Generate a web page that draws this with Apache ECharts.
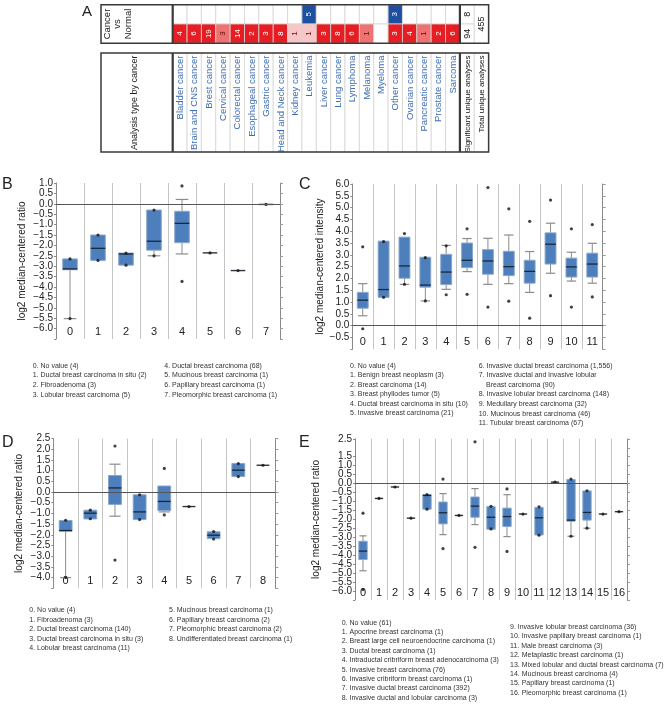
<!DOCTYPE html>
<html><head><meta charset="utf-8">
<script src="https://cdn.jsdelivr.net/npm/echarts@6/dist/echarts.min.js"></script>
<style>html,body{margin:0;padding:0;background:#fff}#c{width:669px;height:706px}</style>
</head><body><div id="c"></div>
<script>
// ---------------- Panel A data ----------------
const cancerTypes = ['Bladder cancer','Brain and CNS cancer','Brest cancer','Cervical cancer','Colorectal cancer','Esophageal cancer','Gastric cancer','Head and Neck cancer','Kidney cancer','Leukemia','Liver cancer','Lung cancer','Lymphoma','Melanoma','Myeloma','Other cancer','Ovarian cancer','Pancreatic cancer','Prostate cancer','Sarcoma'];
const summaryColumns = ['Significant unique analyses','Total unique analyses'];
const blueCounts = [null,null,null,null,null,null,null,null,null,5,null,null,null,null,null,3,null,null,null,null];
const blueRank   = [0,0,0,0,0,0,0,0,0,3,0,0,0,0,0,3,0,0,0,0];
const redCounts  = [4,6,19,3,14,2,3,8,1,1,3,8,6,1,null,3,4,1,2,6];
const redRank    = [3,3,3,2,3,3,3,3,1,1,3,3,3,2,0,3,3,2,3,3];
const significantBlue = 8, significantRed = 94, totalAnalyses = 455;

// ---------------- Panel B data ----------------
const catsB = ['0','1','2','3','4','5','6','7'];
const boxesB = [
  [-5.52,-3.17,-3.13,-2.65,-2.65],
  [-2.72,-2.72,-2.14,-1.50,-1.50],
  [-2.95,-2.95,-2.41,-2.37,-2.37],
  [-2.50,-2.23,-1.80,-0.30,-0.30],
  [-2.41,-1.87,-0.94,-0.36,0.21],
  [-2.36,-2.36,-2.36,-2.36,-2.36],
  [-3.21,-3.21,-3.21,-3.21,-3.21],
  [-0.03,-0.03,-0.03,-0.03,-0.03]
];
const dotsB = [[0,-2.65],[0,-5.52],[1,-1.5],[1,-2.72],[2,-2.37],[2,-2.95],[3,-0.30],[3,-2.50],[4,0.86],[4,-3.73],[5,-2.36],[6,-3.21],[7,-0.03]];
const legendB = [
  ['0. No value (4)','1. Ductal breast carcinoma in situ (2)','2. Fibroadenoma (3)','3. Lobular breast carcinoma (5)'],
  ['4. Ductal breast carcinoma (68)','5. Mucinous breast carcinoma (1)','6. Papillary breast carcinoma (1)','7. Pleomorphic breast carcinoma (1)']
];

// ---------------- Panel C data ----------------
const catsC = ['0','1','2','3','4','5','6','7','8','9','10','11'];
const boxesC = [
  [0.42,0.74,1.08,1.41,1.78],
  [1.20,1.20,1.53,3.58,3.58],
  [1.75,2.01,2.53,3.75,3.75],
  [1.05,1.63,1.72,2.90,2.90],
  [1.54,1.74,2.27,3.02,3.40],
  [2.29,2.46,2.77,3.50,3.69],
  [1.75,2.18,2.74,3.22,3.70],
  [1.78,2.12,2.50,3.15,3.84],
  [1.41,1.80,2.30,2.77,3.14],
  [2.22,2.61,3.45,3.93,4.34],
  [1.89,2.06,2.49,2.86,3.11],
  [1.80,2.06,2.61,3.07,3.49]
];
const dotsC = [[0,3.34],[0,-0.13],[1,3.56],[1,1.20],[2,3.90],[2,1.75],[3,2.88],[3,1.05],[4,3.38],[4,1.31],[5,4.10],[5,1.33],[6,5.85],[6,0.79],[7,4.95],[7,1.04],[8,4.42],[8,0.32],[9,5.32],[9,1.27],[10,4.10],[10,0.79],[11,4.28],[11,1.22]];
const legendC = [
  ['0. No value (4)','1. Benign breast neoplasm (3)','2. Breast carcinoma (14)','3. Breast phyllodes tumor (5)','4. Ductal breast carcinoma in situ (10)','5. Invasive breast carcinoma (21)'],
  ['6. Invasive ductal breast carcinoma (1,556)','7. Invasive ductal and invasive lobular','    Breast carcinoma (90)','8. Invasive lobular breast carcinoma (148)','9. Medullary breast carcinoma (32)','10. Mucinous breast carcinoma (46)','11. Tubular breast carcinoma (67)']
];

// ---------------- Panel D data ----------------
const catsD = ['0','1','2','3','4','5','6','7','8'];
const boxesD = [
  [-4.00,-1.83,-1.80,-1.33,-1.33],
  [-1.26,-1.26,-0.99,-0.85,-0.85],
  [-1.13,-0.58,0.19,0.77,1.30],
  [-1.29,-1.29,-0.93,-0.13,-0.13],
  [-0.93,-0.87,-0.44,0.28,0.28],
  [-0.68,-0.68,-0.68,-0.68,-0.68],
  [-2.18,-2.18,-2.02,-1.86,-1.86],
  [0.72,0.72,1.02,1.33,1.33],
  [1.25,1.25,1.25,1.25,1.25]
];
const dotsD = [[0,-1.32],[0,-4.0],[1,-0.85],[1,-1.25],[2,2.15],[2,-3.18],[3,-0.13],[3,-1.29],[4,1.10],[4,-1.07],[5,-0.68],[6,-1.85],[6,-2.20],[7,1.33],[7,0.72],[8,1.25]];
const legendD = [
  ['0. No value (4)','1. Fibroadenoma (3)','2. Ductal breast carcinoma (140)','3. Ductal breast carcinoma in situ (3)','4. Lobular breast carcinoma (11)'],
  ['5. Mucinous breast carcinoma (1)','6. Papillary breast carcinoma (2)','7. Pleomorphic breast carcinoma (2)','8. Undifferentiated breast carcinoma (1)']
];

// ---------------- Panel E data ----------------
const catsE = ['0','1','2','3','4','5','6','7','8','9','10','11','12','13','14','15','16'];
const boxesE = [
  [-4.87,-4.24,-3.77,-3.22,-2.92],
  [-0.83,-0.83,-0.83,-0.83,-0.83],
  [-0.19,-0.19,-0.19,-0.19,-0.19],
  [-1.93,-1.93,-1.93,-1.93,-1.93],
  [-1.43,-1.43,-0.66,-0.62,-0.62],
  [-2.85,-2.25,-1.63,-1.03,-0.56],
  [-1.78,-1.78,-1.78,-1.78,-1.78],
  [-2.29,-1.88,-1.26,-0.75,-0.28],
  [-2.55,-2.55,-1.88,-1.29,-1.29],
  [-2.96,-2.40,-1.84,-1.37,-0.62],
  [-1.70,-1.70,-1.70,-1.70,-1.70],
  [-2.87,-2.87,-1.91,-1.33,-1.33],
  [0.08,0.08,0.08,0.08,0.08],
  [-2.94,-2.10,-2.04,0.23,0.23],
  [-2.49,-2.04,-1.61,-0.41,-0.41],
  [-1.70,-1.70,-1.70,-1.70,-1.70],
  [-1.57,-1.57,-1.57,-1.57,-1.57]
];
const dotsE = [[0,-1.65],[0,-5.92],[1,-0.83],[2,-0.19],[3,-1.93],[4,-0.62],[4,-1.43],[5,0.25],[5,-3.63],[6,-1.78],[7,2.33],[7,-3.56],[8,-1.27],[8,-2.53],[9,-0.30],[9,-3.79],[10,-1.70],[11,-1.30],[11,-2.88],[12,0.08],[13,0.25],[13,-2.94],[14,-0.40],[14,-2.49],[15,-1.70],[16,-1.57]];
const legendE = [
  ['0. No value (61)','1. Apocrine breast carcinoma (1)','2. Breast large cell neuroendocrine carcinoma (1)','3. Ductal breast carcinoma (1)','4. Intraductal cribriform breast adenocarcinoma (3)','5. Invasive breast carcinoma (76)','6. Invasive cribriform breast carcinoma (1)','7. Invasive ductal breast carcinoma (392)','8. Invasive ductal and lobular carcinoma (3)'],
  ['9. Invasive lobular breast carcinoma (36)','10. Invasive papillary breast carcinoma (1)','11. Male breast carcinoma (3)','12. Metaplastic breast carcinoma (1)','13. Mixed lobular and ductal breast carcinoma (7)','14. Mucinous breast carcinoma (4)','15. Papillary breast carcinoma (1)','16. Pleomorphic breast carcinoma (1)']
];

// ---------------- Rendering ----------------
const FONT = "'Liberation Sans', Arial, sans-serif";
const chart = echarts.init(document.getElementById('c'), null, {renderer:'canvas'});

// Panel A geometry
const tblLeft = 101, hdrRight = 172.7, cellW = 14.36;
const nCols = cancerTypes.length + summaryColumns.length;
const tblRight = hdrRight + nCols * cellW;
const sepX = hdrRight + cancerTypes.length * cellW;
const t1Top = 4.7, t1H = 38.6, t2Top = 53, t2H = 99;

const cellsA = [];
cancerTypes.forEach((n, i) => {
  cellsA.push({col:i,row:0,count:blueCounts[i],rank:blueRank[i],hue:'blue'});
  cellsA.push({col:i,row:1,count:redCounts[i],rank:redRank[i],hue:'red'});
});
cellsA.push({col:20,row:0,count:significantBlue,hue:'none'});
cellsA.push({col:20,row:1,count:significantRed,hue:'none'});
cellsA.push({col:21,row:0,count:totalAnalyses,hue:'none',span:2});

const redShade = {3:'#e61e24',2:'#ef7272',1:'#f8c6c6'};
const blueShade = {3:'#1f4f9f',2:'#6f8fca',1:'#c6d3ec'};

function renderCellA(params, api) {
  const c = cellsA[params.dataIndex];
  const p = api.coord([c.col, c.row]);
  const s = api.size([1, 1]);
  let w = s[0], h = s[1], cx = p[0], cy = p[1];
  if (c.span === 2) { cy = cy + h / 2; h = h * 2; }
  let fill = '#fff', tcol = '#111';
  if (c.count != null && c.hue === 'red') { fill = redShade[c.rank]; tcol = c.rank === 3 ? '#fff' : '#5a1010'; }
  if (c.count != null && c.hue === 'blue') { fill = blueShade[c.rank]; tcol = c.rank === 3 ? '#fff' : '#102050'; }
  const ch = [{type:'rect', shape:{x:cx-w/2, y:cy-h/2, width:w, height:h}, style:{fill:fill, stroke:'#d4d4d4', lineWidth:0.8}}];
  if (c.count != null) {
    ch.push({type:'text', x:cx, y:cy, rotation:Math.PI/2,
      style:{text:String(c.count), fill:tcol, font:(c.hue==='none'?'9px ':'8px ') + FONT, align:'center', verticalAlign:'middle'}});
  }
  return {type:'group', children:ch};
}
const namesA = cancerTypes.concat(summaryColumns);
function renderNameA(params, api) {
  const i = params.dataIndex;
  const p = api.coord([i, 0]);
  const s = api.size([1, 1]);
  const isSum = i >= cancerTypes.length;
  return {type:'group', children:[
    {type:'rect', shape:{x:p[0]-s[0]/2, y:p[1]-s[1]/2, width:s[0], height:s[1]}, style:{fill:'#fff', stroke:'#d4d4d4', lineWidth:0.8}},
    {type:'text', x:p[0]+0.5, y:p[1]-s[1]/2+2.5, rotation:Math.PI/2,
      style:{text:namesA[i], fill:isSum?'#111':'#3f6db3', font:(isSum?'8px ':'9.5px ') + FONT, align:'right', verticalAlign:'middle'}}
  ]};
}

// Box plot renderer
function makeBoxRenderer(boxes) {
  return function (params, api) {
    const cat = api.value(0);
    const v = boxes[cat];
    const band = api.size([1, 0])[0];
    const x = api.coord([cat, v[2]])[0];
    const y = v.map(val => api.coord([cat, val])[1]);
    const bw = band * 0.52, cw = band * 0.45;
    const ch = [];
    const wcol = '#8c8c8c';
    if (v[0] === v[4]) {
      ch.push({type:'line', shape:{x1:x-bw/2, y1:y[2], x2:x+bw/2, y2:y[2]}, style:{stroke:'#2a3440', lineWidth:1.4}});
      return {type:'group', children:ch};
    }
    if (v[0] < v[1]) {
      ch.push({type:'line', shape:{x1:x, y1:y[1], x2:x, y2:y[0]}, style:{stroke:wcol, lineWidth:1}});
      ch.push({type:'line', shape:{x1:x-cw/2, y1:y[0], x2:x+cw/2, y2:y[0]}, style:{stroke:wcol, lineWidth:1.2}});
    }
    if (v[4] > v[3]) {
      ch.push({type:'line', shape:{x1:x, y1:y[3], x2:x, y2:y[4]}, style:{stroke:wcol, lineWidth:1}});
      ch.push({type:'line', shape:{x1:x-cw/2, y1:y[4], x2:x+cw/2, y2:y[4]}, style:{stroke:wcol, lineWidth:1.2}});
    }
    ch.push({type:'rect', shape:{x:x-bw/2, y:y[3], width:bw, height:Math.max(1, y[1]-y[3])}, style:{fill:'#4d7fbc', stroke:'#8aa6c8', lineWidth:1}});
    ch.push({type:'line', shape:{x1:x-bw/2, y1:y[2], x2:x+bw/2, y2:y[2]}, style:{stroke:'#17283c', lineWidth:1.3}});
    return {type:'group', children:ch};
  };
}

const fmt = (min) => (v) => Math.abs(v - min) < 1e-9 ? '' : (v < -1e-9 ? '\u2212' + Math.abs(v).toFixed(1) : Math.abs(v).toFixed(1));

const panels = [
  {cats:catsB, boxes:boxesB, dots:dotsB, min:-6.5, max:1.0, grid:{left:56, top:183, width:224, height:156}, name:'log2 median-centered ratio', gap:29},
  {cats:catsC, boxes:boxesC, dots:dotsC, min:-1.0, max:6.0, grid:{left:352.3, top:184, width:250.4, height:165.3}, name:'log2 median-centered intensity', gap:27},
  {cats:catsD, boxes:boxesD, dots:dotsD, min:-4.5, max:2.5, grid:{left:53.3, top:438.5, width:222, height:149.8}, name:'log2 median-centered ratio', gap:29},
  {cats:catsE, boxes:boxesE, dots:dotsE, min:-6.5, max:2.5, grid:{left:355, top:438.8, width:272, height:161.2}, name:'log2 median-centered ratio', gap:34}
];

const grids = [
  {left:hdrRight, top:t1Top, width:nCols*cellW, height:t1H},
  {left:hdrRight, top:t2Top, width:nCols*cellW, height:t2H}
];
const xAxes = [
  {gridIndex:0, type:'category', data:namesA, show:false},
  {gridIndex:1, type:'category', data:namesA, show:false}
];
const yAxes = [
  {gridIndex:0, type:'category', data:['blue','red'], inverse:true, show:false},
  {gridIndex:1, type:'category', data:['names'], show:false}
];
const series = [
  {type:'custom', xAxisIndex:0, yAxisIndex:0, renderItem:renderCellA, data:cellsA.map(c=>[c.col,c.row]), encode:{x:0,y:1}, silent:true, clip:false},
  {type:'custom', xAxisIndex:1, yAxisIndex:1, renderItem:renderNameA, data:namesA.map((n,i)=>[i,0]), encode:{x:0,y:1}, silent:true, clip:false}
];

panels.forEach((p, k) => {
  const gi = grids.length;
  grids.push(p.grid);
  const xi = xAxes.length, yi = yAxes.length;
  xAxes.push({gridIndex:gi, type:'category', data:p.cats, position:'bottom',
    axisLine:{lineStyle:{color:'#8a8a8a', width:1}}, axisTick:{show:false},
    axisLabel:{inside:true, margin:1.5, interval:0, fontSize:11, color:'#222', fontFamily:FONT},
    splitLine:{show:true, lineStyle:{color:'#c4c4c4', width:1}}});
  xAxes.push({gridIndex:gi, type:'category', data:p.cats, position:'top',
    axisLine:{lineStyle:{color:'#8a8a8a', width:1}}, axisTick:{show:false}, axisLabel:{show:false}, splitLine:{show:false}});
  yAxes.push({gridIndex:gi, type:'value', min:p.min, max:p.max, interval:0.5, position:'left',
    name:p.name, nameLocation:'middle', nameGap:p.gap, nameRotate:90,
    nameTextStyle:{fontSize:10, color:'#222', fontFamily:FONT},
    axisLine:{show:true, lineStyle:{color:'#8a8a8a'}}, axisTick:{show:true, length:2, lineStyle:{color:'#8a8a8a'}},
    axisLabel:{formatter:fmt(p.min), fontSize:10, color:'#222', margin:3, fontFamily:FONT, showMinLabel:true, showMaxLabel:true},
    splitLine:{show:false}});
  yAxes.push({gridIndex:gi, type:'value', min:p.min, max:p.max, interval:0.5, position:'right',
    axisLine:{show:true, lineStyle:{color:'#8a8a8a'}}, axisTick:{show:true, length:3, lineStyle:{color:'#9a9a9a'}},
    axisLabel:{show:false}, splitLine:{show:false}});
  series.push({type:'custom', xAxisIndex:xi, yAxisIndex:yi, renderItem:makeBoxRenderer(p.boxes),
    data:p.boxes.map((b,i)=>[i].concat(b)), encode:{x:0, y:[1,2,3,4,5]}, silent:true, z:3});
  series.push({type:'scatter', xAxisIndex:xi, yAxisIndex:yi, data:p.dots, symbol:'circle', symbolSize:3.2,
    itemStyle:{color:'#111'}, silent:true, z:4,
    markLine:{silent:true, symbol:'none', label:{show:false}, animation:false,
      lineStyle:{color:'#555', type:'solid', width:1}, data:[{yAxis:0}]}});
});

// graphics: table frames, header texts, panel letters, legends
const G = [];
function txt(x, y, text, size, opts) {
  opts = opts || {};
  G.push({type:'text', x:x, y:y, rotation:opts.rot||0, z:100, silent:true,
    style:{text:text, font:(opts.weight||'normal') + ' ' + size + 'px ' + FONT, fill:opts.color||'#222',
      align:opts.align||'left', verticalAlign:opts.va||'middle', textAlign:opts.align||'left', textVerticalAlign:opts.va||'middle', lineHeight:opts.lh}});
}
function ln(x1,y1,x2,y2,w,c){G.push({type:'line', z:101, silent:true, shape:{x1,y1,x2,y2}, style:{stroke:c||'#3a3a3a', lineWidth:w}});}
function frame(top, h) {
  G.push({type:'rect', z:101, silent:true, shape:{x:tblLeft, y:top, width:tblRight-tblLeft, height:h}, style:{fill:'none', stroke:'#3a3a3a', lineWidth:1.5}});
  ln(hdrRight, top, hdrRight, top+h, 2.2);
  ln(sepX, top, sepX, top+h, 2.2);
}
frame(t1Top, t1H);
frame(t2Top, t2H);
txt(117.5, t1Top + t1H/2, 'Cancer\nvs\nNormal', 9.5, {rot:Math.PI/2, align:'center', lh:10.5});
txt(134.5, t2Top + 2.5, 'Analysis type by cancer', 9, {rot:Math.PI/2, align:'right'});

txt(82, 11.5, 'A', 15);
txt(2, 184.5, 'B', 16);
txt(299, 184.5, 'C', 16);
txt(2, 443, 'D', 16);
txt(299, 443, 'E', 16);

function legend(lines, x, y0, dy, indentX) {
  lines.forEach((s, i) => {
    const ind = /^\s+/.test(s);
    txt(ind ? indentX : x, y0 + i*dy, s.trim(), 7, {color:'#333'});
  });
}
legend(legendB[0], 32.7, 366, 9.55);
legend(legendB[1], 164.3, 366, 9.55);
legend(legendC[0], 350, 365.7, 9.55);
legend(legendC[1], 478.7, 365.7, 9.6, 486);
legend(legendD[0], 29.3, 610, 9.6);
legend(legendD[1], 169, 610, 9.6);
legend(legendE[0], 341.7, 622.7, 9.4);
legend(legendE[1], 510, 627, 9.4);

chart.setOption({
  animation:false,
  backgroundColor:'#fff',
  textStyle:{fontFamily:FONT},
  grid:grids, xAxis:xAxes, yAxis:yAxes, series:series,
  graphic:{elements:G}
});
</script></body></html>
